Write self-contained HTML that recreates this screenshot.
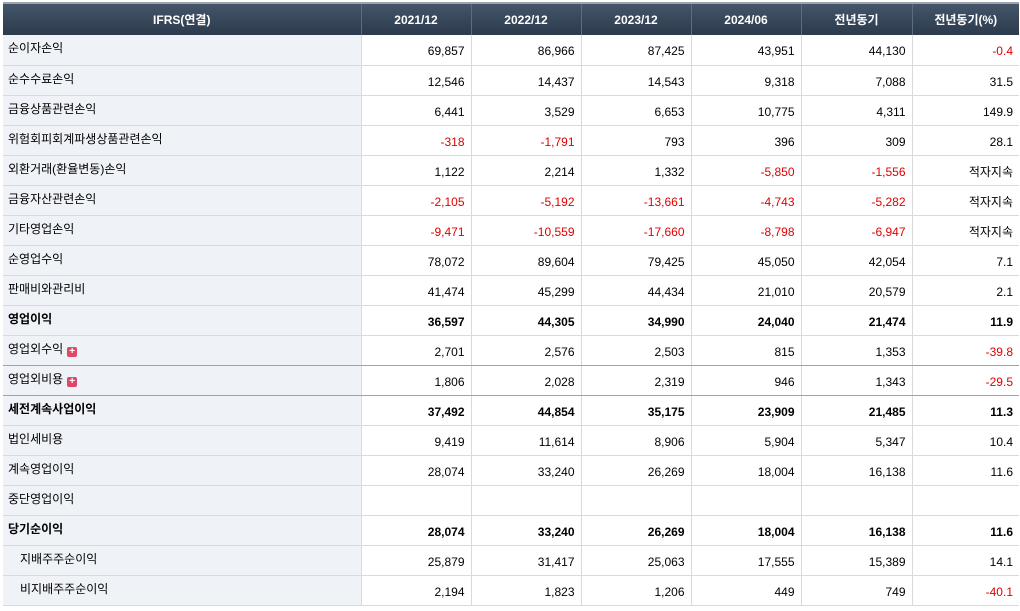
<!DOCTYPE html>
<html><head><meta charset="utf-8">
<style>
body{margin:0;background:#fff;width:1020px;height:611px;overflow:hidden;font-family:"Liberation Sans","Noto Sans CJK KR",sans-serif;font-size:12px;color:#000}
table{position:absolute;left:3px;top:2px;border-collapse:collapse;table-layout:fixed;border-top:2px solid #9aa5ad}
th,td{box-sizing:border-box}
tr{height:30px}
tr.h{height:32px}
th{height:32px;padding:0;background:linear-gradient(#45566a,#2b3a4c);color:#fff;font-weight:bold;font-size:12px;border-left:1px solid #5d6d80;text-align:center;line-height:14px}
th:first-child{border-left:none}
td{height:30px;padding:3px 6px 0 0;line-height:14px;border-bottom:1px solid #d6dbe0;border-left:1px solid #d6dbe0;text-align:right;vertical-align:middle}
td.l{text-align:left;padding:6px 0 0 5px;background:#eff2f7;border-left:none;vertical-align:top}
tr.b td{font-weight:bold}
tr.g td{border-bottom:1px solid #98a7ad}
.n{color:#e00000}
.p{display:inline-block;width:10px;height:10px;background:#e04868;border-radius:2px;color:#fff;font-size:10px;line-height:10px;text-align:center;vertical-align:-1px;margin-left:4px;font-weight:bold}
.i{padding-left:17px!important}
</style></head><body>
<table>
<colgroup><col style="width:358px"><col style="width:110px"><col style="width:110px"><col style="width:110px"><col style="width:110px"><col style="width:111px"><col style="width:107px"></colgroup>
<tr class="h"><th>IFRS(연결)</th><th>2021/12</th><th>2022/12</th><th>2023/12</th><th>2024/06</th><th>전년동기</th><th>전년동기(%)</th></tr>
<tr><td class="l">순이자손익</td><td>69,857</td><td>86,966</td><td>87,425</td><td>43,951</td><td>44,130</td><td class="n">-0.4</td></tr>
<tr><td class="l">순수수료손익</td><td>12,546</td><td>14,437</td><td>14,543</td><td>9,318</td><td>7,088</td><td>31.5</td></tr>
<tr><td class="l">금융상품관련손익</td><td>6,441</td><td>3,529</td><td>6,653</td><td>10,775</td><td>4,311</td><td>149.9</td></tr>
<tr><td class="l">위험회피회계파생상품관련손익</td><td class="n">-318</td><td class="n">-1,791</td><td>793</td><td>396</td><td>309</td><td>28.1</td></tr>
<tr><td class="l">외환거래(환율변동)손익</td><td>1,122</td><td>2,214</td><td>1,332</td><td class="n">-5,850</td><td class="n">-1,556</td><td>적자지속</td></tr>
<tr><td class="l">금융자산관련손익</td><td class="n">-2,105</td><td class="n">-5,192</td><td class="n">-13,661</td><td class="n">-4,743</td><td class="n">-5,282</td><td>적자지속</td></tr>
<tr><td class="l">기타영업손익</td><td class="n">-9,471</td><td class="n">-10,559</td><td class="n">-17,660</td><td class="n">-8,798</td><td class="n">-6,947</td><td>적자지속</td></tr>
<tr><td class="l">순영업수익</td><td>78,072</td><td>89,604</td><td>79,425</td><td>45,050</td><td>42,054</td><td>7.1</td></tr>
<tr><td class="l">판매비와관리비</td><td>41,474</td><td>45,299</td><td>44,434</td><td>21,010</td><td>20,579</td><td>2.1</td></tr>
<tr class="b"><td class="l">영업이익</td><td>36,597</td><td>44,305</td><td>34,990</td><td>24,040</td><td>21,474</td><td>11.9</td></tr>
<tr class="g"><td class="l">영업외수익<span class="p">+</span></td><td>2,701</td><td>2,576</td><td>2,503</td><td>815</td><td>1,353</td><td class="n">-39.8</td></tr>
<tr class="g"><td class="l">영업외비용<span class="p">+</span></td><td>1,806</td><td>2,028</td><td>2,319</td><td>946</td><td>1,343</td><td class="n">-29.5</td></tr>
<tr class="b"><td class="l">세전계속사업이익</td><td>37,492</td><td>44,854</td><td>35,175</td><td>23,909</td><td>21,485</td><td>11.3</td></tr>
<tr><td class="l">법인세비용</td><td>9,419</td><td>11,614</td><td>8,906</td><td>5,904</td><td>5,347</td><td>10.4</td></tr>
<tr><td class="l">계속영업이익</td><td>28,074</td><td>33,240</td><td>26,269</td><td>18,004</td><td>16,138</td><td>11.6</td></tr>
<tr><td class="l">중단영업이익</td><td></td><td></td><td></td><td></td><td></td><td></td></tr>
<tr class="b"><td class="l">당기순이익</td><td>28,074</td><td>33,240</td><td>26,269</td><td>18,004</td><td>16,138</td><td>11.6</td></tr>
<tr><td class="l i">지배주주순이익</td><td>25,879</td><td>31,417</td><td>25,063</td><td>17,555</td><td>15,389</td><td>14.1</td></tr>
<tr><td class="l i">비지배주주순이익</td><td>2,194</td><td>1,823</td><td>1,206</td><td>449</td><td>749</td><td class="n">-40.1</td></tr>
</table>
</body></html>
